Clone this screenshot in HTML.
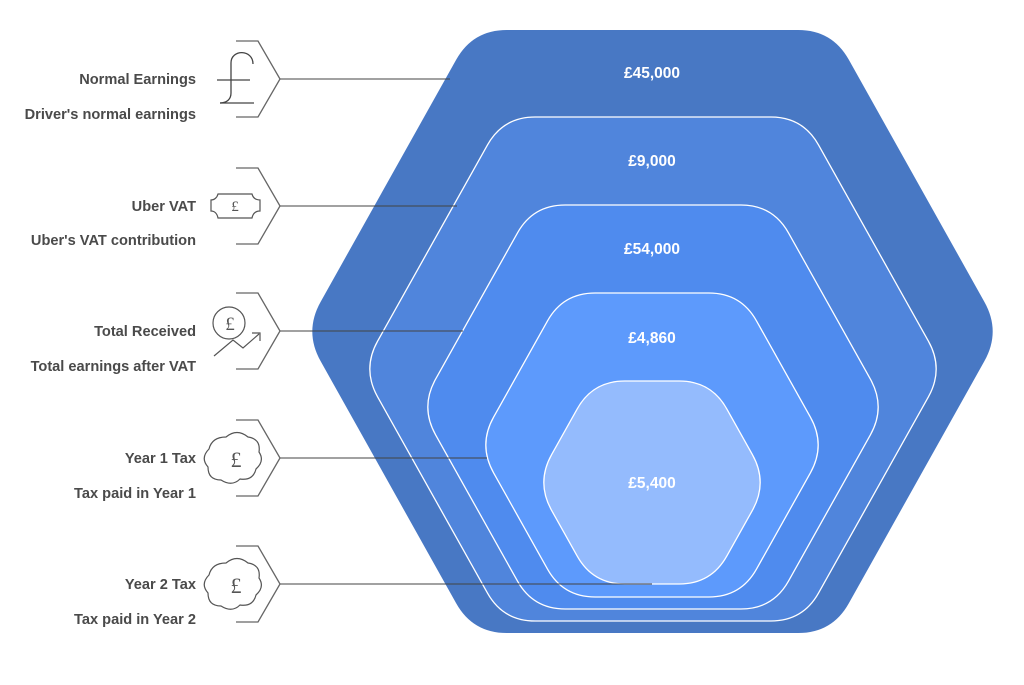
<!DOCTYPE html>
<html><head><meta charset="utf-8"><style>
body{margin:0;background:#fff;width:1024px;height:685px;overflow:hidden;font-family:"Liberation Sans",Arial,sans-serif}
svg{position:absolute;left:0;top:0}
</style></head><body>
<svg id="s" width="1024" height="685" viewBox="0 0 1024 685" xmlns="http://www.w3.org/2000/svg">
<g id="hex"></g>
<g font-family="Liberation Sans, Arial, sans-serif" font-weight="bold" font-size="15.5" fill="#fff" text-anchor="middle">
<text x="652" y="78">£45,000</text>
<text x="652" y="166">£9,000</text>
<text x="652" y="254">£54,000</text>
<text x="652" y="343">£4,860</text>
<text x="652" y="488">£5,400</text>
</g>
<g stroke="#444" stroke-opacity="0.8" stroke-width="1.2" fill="none">
<line x1="280" y1="79" x2="450" y2="79"/>
<line x1="280" y1="206" x2="457" y2="206"/>
<line x1="280" y1="331" x2="463" y2="331"/>
<line x1="280" y1="458" x2="487" y2="458"/>
<line x1="280" y1="584" x2="652" y2="584"/>
</g>
<g stroke="#666" stroke-width="1.3" fill="none" id="br"></g>
<g stroke="#444" stroke-width="1.3" fill="none">
<path d="M253 64 C253 49 231 49 231 63 L231 93 C231 99 227 103 220 103"/>
<line x1="217" y1="80" x2="250" y2="80"/><line x1="220" y1="103" x2="254" y2="103"/>
</g>
<g stroke="#555" stroke-width="1.2" fill="none">
<path d="M218 194 L252 194 C253 198 256 200 260 200 L260 211 C256 211 253 213 252 218 L218 218 C217 213 214 211 211 211 L211 200 C214 200 217 198 218 194Z"/>
<circle cx="229" cy="323" r="16"/>
<path d="M214 356 L233 340 L243 348 L259 334 M252 333 L260 333 L260 341"/>
<path d="M226 437 q11-9 22 0 q13 2 11 15 q6 9-3 17 q-3 12-16 10 q-8 8-19 1 q-13 0-13-13 q-8-9 1-18 q3-12 17-12z"/>
<path d="M226 563 q11-9 22 0 q13 2 11 15 q6 9-3 17 q-3 12-16 10 q-8 8-19 1 q-13 0-13-13 q-8-9 1-18 q3-12 17-12z"/>
</g>
<g font-family="Liberation Serif, serif" font-size="15" fill="#555" text-anchor="middle">
<text x="235" y="211">£</text>
<text x="230" y="330" font-size="19">£</text>
<text x="236" y="467" font-size="22">£</text>
<text x="236" y="593" font-size="22">£</text>
</g>
<g font-family="Liberation Sans, Arial, sans-serif" font-weight="bold" font-size="14.6" fill="#4a4a4a" text-anchor="end">
<text x="196" y="84">Normal Earnings</text>
<text x="196" y="119">Driver's normal earnings</text>
<text x="196" y="211">Uber VAT</text>
<text x="196" y="245">Uber's VAT contribution</text>
<text x="196" y="336">Total Received</text>
<text x="196" y="371">Total earnings after VAT</text>
<text x="196" y="463">Year 1 Tax</text>
<text x="196" y="498">Tax paid in Year 1</text>
<text x="196" y="589">Year 2 Tax</text>
<text x="196" y="624">Tax paid in Year 2</text>
</g>
</svg>
<script>
const hexes=[
 [30,633,304,1001,'#4878c4',null,34],
 [117,621,362,944,'#5085dc','#fff',32],
 [205,609,420,886,'#4f8bee','#fff',32],
 [293,597,478,826,'#5d9afc','#fff',32],
 [381,584,536,768,'#94bbfd','#fff',32]];
const g=document.getElementById('hex');
function rp(pts,r){let d='';const n=pts.length;
 for(let i=0;i<n;i++){const p=pts[i],a=pts[(i+n-1)%n],b=pts[(i+1)%n];
  const la=Math.hypot(a[0]-p[0],a[1]-p[1]),lb=Math.hypot(b[0]-p[0],b[1]-p[1]);
  const s=[p[0]+(a[0]-p[0])*r/la,p[1]+(a[1]-p[1])*r/la],e=[p[0]+(b[0]-p[0])*r/lb,p[1]+(b[1]-p[1])*r/lb];
  d+=(i?'L':'M')+s[0]+' '+s[1]+'Q'+p[0]+' '+p[1]+' '+e[0]+' '+e[1];}
 return d+'Z';}
for(const [t,b,l,r,f,st,rad] of hexes){const c=(t+b)/2,dx=(c-t)*0.56;
 const pts=[[l+dx,t],[r-dx,t],[r,c],[r-dx,b],[l+dx,b],[l,c]];
 const p=document.createElementNS('http://www.w3.org/2000/svg','path');
 p.setAttribute('d',rp(pts,rad));p.setAttribute('fill',f);
 if(st){p.setAttribute('stroke',st);p.setAttribute('stroke-width','1.3');}
 g.appendChild(p);}
const br=document.getElementById('br');
for(const y of [79,206,331,458,584]){const p=document.createElementNS('http://www.w3.org/2000/svg','path');
 p.setAttribute('d',`M236 ${y-38} L258 ${y-38} L280 ${y} L258 ${y+38} L236 ${y+38}`);br.appendChild(p);}
</script>
</body></html>
